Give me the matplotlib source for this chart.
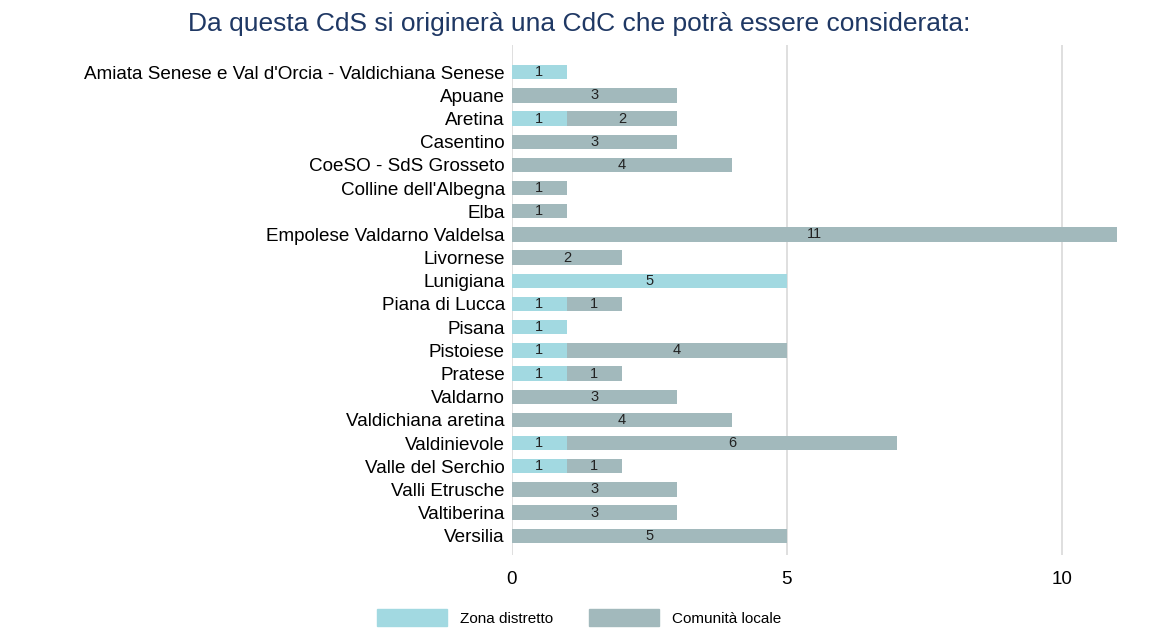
import matplotlib
matplotlib.use("Agg")
import matplotlib.pyplot as plt
from matplotlib.patches import Patch

plt.rcParams['font.family'] = ['Liberation Sans', 'DejaVu Sans']

categories = ["Amiata Senese e Val d'Orcia - Valdichiana Senese", "Apuane", "Aretina",
              "Casentino", "CoeSO - SdS Grosseto", "Colline dell'Albegna", "Elba",
              "Empolese Valdarno Valdelsa", "Livornese", "Lunigiana", "Piana di Lucca",
              "Pisana", "Pistoiese", "Pratese", "Valdarno", "Valdichiana aretina",
              "Valdinievole", "Valle del Serchio", "Valli Etrusche", "Valtiberina", "Versilia"]
zona_distretto = [1, 0, 1, 0, 0, 0, 0, 0, 0, 5, 1, 1, 1, 1, 0, 0, 1, 1, 0, 0, 0]
comunita_locale = [0, 3, 2, 3, 4, 1, 1, 11, 2, 0, 1, 0, 4, 1, 3, 4, 6, 1, 3, 3, 5]
series_names = ["Zona distretto", "Comunità locale"]
x_ticks = [0, 5, 10]

c1 = "#a2d9e1"
c2 = "#a2b9bc"

fig = plt.figure(figsize=(11.58, 6.29), dpi=100)
ax = fig.add_axes([0.442, 0.118, 0.525, 0.81])

y = list(range(len(categories)))
h = 0.62
ax.barh(y, zona_distretto, height=h, color=c1, zorder=2)
ax.barh(y, comunita_locale, left=zona_distretto, height=h, color=c2, zorder=2)

for i in y:
    z = zona_distretto[i]
    c = comunita_locale[i]
    if z > 0:
        ax.text(z / 2, i, str(z), ha='center', va='center', fontsize=10.5, color='#222222', zorder=3)
    if c > 0:
        ax.text(z + c / 2, i, str(c), ha='center', va='center', fontsize=10.5, color='#222222', zorder=3)

ax.set_ylim(len(categories) - 1 + 0.82, -1.16)
ax.set_xlim(0, 11.05)
ax.set_yticks(y)
ax.set_yticklabels(categories, fontsize=13.6)
ax.set_xticks(x_ticks)
ax.set_xticklabels([str(t) for t in x_ticks], fontsize=13.6)
ax.tick_params(axis='both', length=0)
ax.tick_params(axis='y', pad=5)
ax.tick_params(axis='x', pad=12)
for s in ax.spines.values():
    s.set_visible(False)
ax.grid(axis='x', color='#d9d9d9', linewidth=1.2, zorder=0)
ax.set_axisbelow(True)

fig.text(0.5, 0.962, "Da questa CdS si originerà una CdC che potrà essere considerata:",
         ha='center', va='center', fontsize=19, color='#1f3864')

handles = [Patch(color=c1), Patch(color=c2)]
fig.legend(handles, series_names, loc='center', bbox_to_anchor=(0.5, 0.018), ncol=2,
           frameon=False, fontsize=11, handlelength=4.6, handleheight=1.3,
           columnspacing=2.35, handletextpad=0.85)

fig.savefig("out.png", dpi=100)
